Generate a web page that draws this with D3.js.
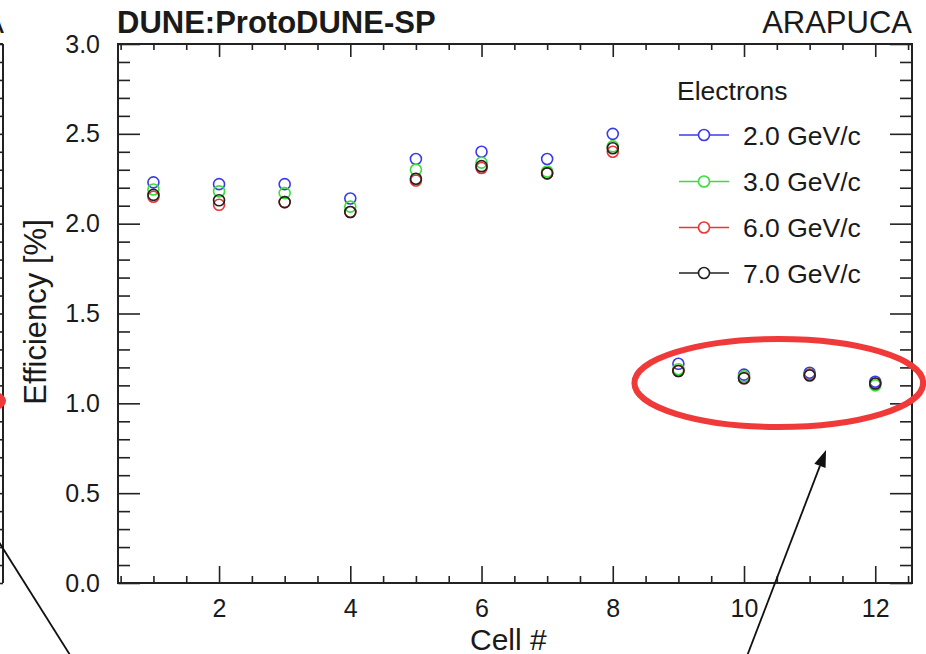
<!DOCTYPE html>
<html>
<head>
<meta charset="utf-8">
<script src="https://cdn.jsdelivr.net/npm/d3@7"></script>
<style>
  body { margin: 0; background: #fff; }
  svg { display: block; }
  text { font-family: "Liberation Sans", Arial, Helvetica, sans-serif; fill: #1a1a1a; }
</style>
</head>
<body>
<svg id="chart" width="926" height="654"></svg>
<script>
// cell numbers and efficiency [%] per beam momentum
const cells = [1, 2, 3, 4, 5, 6, 7, 8, 9, 10, 11, 12];
const eff2GeV = [2.23, 2.22, 2.22, 2.14, 2.36, 2.40, 2.36, 2.50, 1.22, 1.16, 1.17, 1.12];
const eff3GeV = [2.19, 2.18, 2.17, 2.095, 2.30, 2.34, 2.29, 2.43, 1.19, 1.15, 1.16, 1.10];
const eff6GeV = [2.15, 2.105, 2.12, 2.065, 2.24, 2.31, 2.28, 2.40, 1.18, 1.14, 1.16, 1.11];
const eff7GeV = [2.16, 2.13, 2.12, 2.065, 2.25, 2.32, 2.28, 2.42, 1.18, 1.14, 1.155, 1.11];
const seriesNames = ['2.0 GeV/c', '3.0 GeV/c', '6.0 GeV/c', '7.0 GeV/c'];
const seriesColors = ['#3b3be8', '#3ade3a', '#e83535', '#222222'];
const xMajorTicks = [2, 4, 6, 8, 10, 12];
const yMajorTicks = [0, 0.5, 1.0, 1.5, 2.0, 2.5, 3.0];

const series = [eff2GeV, eff3GeV, eff6GeV, eff7GeV].map((vals, i) => ({
  name: seriesNames[i],
  color: seriesColors[i],
  points: cells.map((c, j) => ({cell: c, eff: vals[j]}))
}));

const svg = d3.select('#chart');
const plotL = 118, plotR = 912, plotT = 44, plotB = 583;

const x = d3.scaleLinear().domain([0.46, 12.56]).range([plotL, plotR]);
const y = d3.scaleLinear().domain([0, 3.0]).range([plotB, plotT]);

const xMinor = d3.range(0.5, 12.56, 0.5).filter(v => !xMajorTicks.includes(v));
const yMinor = d3.range(0, 30.01, 1).map(v => v / 10).filter(v => !yMajorTicks.some(t => Math.abs(t - v) < 1e-6));

function plainAxis(g) {
  g.select('.domain').remove();
  g.selectAll('line').attr('stroke', '#222').attr('stroke-width', 1.6);
}

// cut-off neighbour panel on the left edge
svg.append('g')
    .attr('transform', 'translate(3,0)')
    .call(d3.axisRight(y).tickValues(yMajorTicks).tickSize(-22).tickFormat(''))
    .call(plainAxis);
svg.append('g')
    .attr('transform', 'translate(3,0)')
    .call(d3.axisRight(y).tickValues(yMinor).tickSize(-12).tickFormat(''))
    .call(plainAxis);
svg.append('line')
    .attr('x1', 3).attr('x2', 3).attr('y1', plotT).attr('y2', plotB)
    .attr('stroke', '#222').attr('stroke-width', 2);
svg.append('line')
    .attr('x1', -10).attr('x2', 3).attr('y1', plotT).attr('y2', plotT)
    .attr('stroke', '#222').attr('stroke-width', 2);
svg.append('text')
    .attr('x', 4).attr('y', 33)
    .attr('text-anchor', 'end')
    .style('font-size', '31px')
    .text('ARAPUCA');

// axes of the main panel
svg.append('g')
    .attr('transform', `translate(0,${plotB})`)
    .call(d3.axisBottom(x).tickValues(xMajorTicks).tickSize(-17).tickPadding(16).tickFormat(d3.format('d')))
    .call(plainAxis)
    .call(g => g.selectAll('text').style('font-size', '25px').attr('fill', '#1a1a1a'));
svg.append('g')
    .attr('transform', `translate(0,${plotB})`)
    .call(d3.axisBottom(x).tickValues(xMinor).tickSize(-7).tickFormat(''))
    .call(plainAxis);
svg.append('g')
    .attr('transform', `translate(0,${plotT})`)
    .call(d3.axisTop(x).tickValues(xMajorTicks).tickSize(-13).tickFormat(''))
    .call(plainAxis);
svg.append('g')
    .attr('transform', `translate(0,${plotT})`)
    .call(d3.axisTop(x).tickValues(xMinor).tickSize(-6).tickFormat(''))
    .call(plainAxis);

svg.append('g')
    .attr('transform', `translate(${plotL},0)`)
    .call(d3.axisLeft(y).tickValues(yMajorTicks).tickSize(-22).tickPadding(18).tickFormat(d3.format('.1f')))
    .call(plainAxis)
    .call(g => g.selectAll('text').style('font-size', '25px').attr('fill', '#1a1a1a'));
svg.append('g')
    .attr('transform', `translate(${plotL},0)`)
    .call(d3.axisLeft(y).tickValues(yMinor).tickSize(-12).tickFormat(''))
    .call(plainAxis);
svg.append('g')
    .attr('transform', `translate(${plotR},0)`)
    .call(d3.axisRight(y).tickValues(yMajorTicks).tickSize(-22).tickFormat(''))
    .call(plainAxis);
svg.append('g')
    .attr('transform', `translate(${plotR},0)`)
    .call(d3.axisRight(y).tickValues(yMinor).tickSize(-12).tickFormat(''))
    .call(plainAxis);

svg.append('rect')
    .attr('x', plotL).attr('y', plotT)
    .attr('width', plotR - plotL).attr('height', plotB - plotT)
    .attr('fill', 'none').attr('stroke', '#222').attr('stroke-width', 2);

// titles
svg.append('text')
    .attr('x', 117).attr('y', 33)
    .style('font-size', '31px').style('font-weight', 'bold')
    .text('DUNE:ProtoDUNE-SP');
svg.append('text')
    .attr('x', plotR).attr('y', 33)
    .attr('text-anchor', 'end')
    .style('font-size', '31px')
    .text('ARAPUCA');
svg.append('text')
    .attr('x', 470).attr('y', 650)
    .style('font-size', '30px')
    .text('Cell #');
svg.append('text')
    .attr('transform', 'translate(46,312) rotate(-90)')
    .attr('text-anchor', 'middle')
    .style('font-size', '31px')
    .text('Efficiency [%]');

// data points
series.forEach(s => {
  svg.append('g').selectAll('circle')
      .data(s.points)
      .enter()
      .append('circle')
      .attr('cx', d => x(d.cell))
      .attr('cy', d => y(d.eff))
      .attr('r', 5.5)
      .attr('fill', 'none')
      .attr('stroke', s.color)
      .attr('stroke-width', 1.6);
});

// legend
const legend = svg.append('g');
legend.append('text')
    .attr('x', 677).attr('y', 100)
    .style('font-size', '26.5px')
    .text('Electrons');
const rowY = [135, 181.5, 227.5, 273];
series.forEach((s, i) => {
  const row = legend.append('g').attr('transform', `translate(0,${rowY[i]})`);
  row.append('line')
      .attr('x1', 679).attr('x2', 729)
      .attr('stroke', s.color).attr('stroke-width', 1.6);
  row.append('circle')
      .attr('cx', 704).attr('r', 5.5)
      .attr('fill', '#fff').attr('stroke', s.color).attr('stroke-width', 1.6);
  row.append('text')
      .attr('x', 743).attr('y', 9.5)
      .style('font-size', '26.5px')
      .text(s.name);
});

// annotations: red ellipse round cells 9-12 and arrows from below
const ring = {cell: 10.53, eff: 1.113, rCell: 2.2, rEff: 0.245};
svg.append('ellipse')
    .attr('cx', x(ring.cell)).attr('cy', y(ring.eff))
    .attr('rx', x(ring.cell + ring.rCell) - x(ring.cell))
    .attr('ry', y(ring.eff - ring.rEff) - y(ring.eff))
    .attr('fill', 'none').attr('stroke', '#f03a3a').attr('stroke-width', 6);
// neighbour panel's ellipse, mostly off-screen
svg.append('ellipse')
    .attr('cx', -142).attr('cy', 401)
    .attr('rx', 145).attr('ry', 22)
    .attr('fill', 'none').attr('stroke', '#f03a3a').attr('stroke-width', 6);

const arrowTail = {cell: 10.0, eff: -0.45};
const arrowTip = {cell: 11.25, eff: 0.74};
const ax1 = x(arrowTail.cell), ay1 = y(arrowTail.eff);
const ax2 = x(arrowTip.cell), ay2 = y(arrowTip.eff);
const ang = Math.atan2(ay2 - ay1, ax2 - ax1);
const headLen = 17, headW = 6;
const bx = ax2 - headLen * Math.cos(ang), by = ay2 - headLen * Math.sin(ang);
svg.append('line')
    .attr('x1', ax1).attr('y1', ay1).attr('x2', bx).attr('y2', by)
    .attr('stroke', '#111').attr('stroke-width', 1.8);
svg.append('path')
    .attr('d', d3.line()([
      [ax2, ay2],
      [bx + headW * Math.sin(ang), by - headW * Math.cos(ang)],
      [bx - headW * Math.sin(ang), by + headW * Math.cos(ang)]
    ]) + 'Z')
    .attr('fill', '#111');

const leftLine = [{cell: -1.6, eff: 0.37}, {cell: -0.1, eff: -0.5}];
svg.append('line')
    .attr('x1', x(leftLine[0].cell)).attr('y1', y(leftLine[0].eff))
    .attr('x2', x(leftLine[1].cell)).attr('y2', y(leftLine[1].eff))
    .attr('stroke', '#111').attr('stroke-width', 1.8);
</script>
</body>
</html>
